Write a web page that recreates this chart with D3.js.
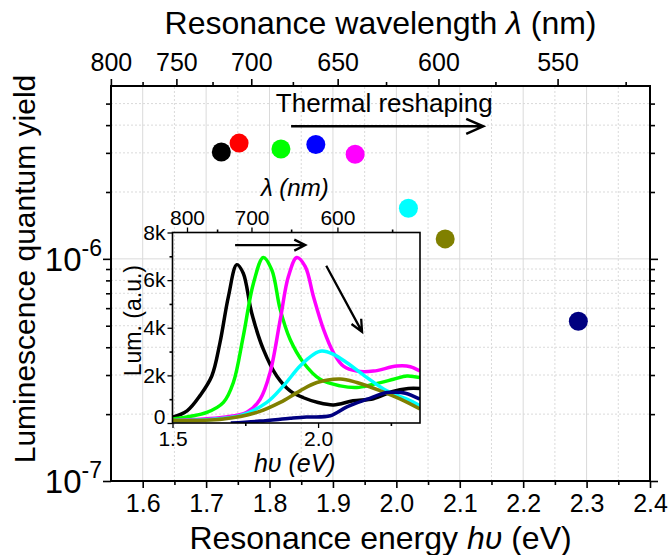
<!DOCTYPE html>
<meta charset="utf-8">
<style>
body { margin: 0; background: #fff; }
svg { display: block; font-family: "Liberation Sans", Arial, sans-serif; }
.grid line { stroke: #dadada; stroke-width: 1; }
.grid line.minor { stroke-dasharray: 2,2; }
.axis path { display: none; }
.axis line { stroke: #000; stroke-width: 1.6; }
.spec { fill: none; stroke-width: 3.5; stroke-linejoin: round; }
.arrow { fill: none; stroke: #000; stroke-width: 2.5; }
</style>
<svg width="672" height="555"></svg>
<script src="https://d3js.org/d3.v7.min.js"></script>
<script>
var HC = 1239.84;

// main plot: resonance energy (eV) vs quantum yield
var dotEnergy = [1.724, 1.752, 1.818, 1.873, 1.935, 2.019, 2.077, 2.287];
var dotYield  = [3.03e-6, 3.32e-6, 3.12e-6, 3.27e-6, 2.96e-6, 1.69e-6, 1.23e-6, 5.24e-7];
var dotColor  = ["#000000", "#ff0000", "#00ff00", "#0000ff", "#ff00ff", "#00ffff", "#808000", "#000080"];

var xMajor = [1.6, 1.7, 1.8, 1.9, 2.0, 2.1, 2.2, 2.3, 2.4];
var xMinor = [1.65, 1.75, 1.85, 1.95, 2.05, 2.15, 2.25, 2.35];
var lamMajor = [800, 750, 700, 650, 600, 550];
var lamMinor = [775, 725, 675, 625, 575, 525];
var yMajor = [1e-7, 1e-6];
var yMinor = [2e-7, 3e-7, 4e-7, 5e-7, 6e-7, 7e-7, 8e-7, 9e-7, 2e-6, 3e-6, 4e-6, 5e-6];

// inset: luminescence spectra, [energy eV, counts]
var specBlack = [[1.50,240],[1.55,510],[1.595,1160],[1.635,1975],[1.663,3370],[1.692,5310],[1.721,6650],[1.743,6290],[1.772,4620],[1.812,3090],[1.858,1975],[1.904,1350],[1.95,1060],[2.0,860],[2.053,760],[2.12,930],[2.19,1020],[2.25,1300],[2.31,1450],[2.35,1450]];
var specGreen = [[1.50,170],[1.618,445],[1.675,865],[1.709,1700],[1.743,3640],[1.778,5870],[1.812,6950],[1.841,6430],[1.870,4760],[1.904,3505],[1.950,2530],[2.007,1835],[2.076,1560],[2.133,1490],[2.190,1630],[2.259,1835],[2.305,1975],[2.35,1905]];
var specMagenta = [[1.50,100],[1.675,240],[1.755,445],[1.801,1000],[1.835,2115],[1.870,4340],[1.898,6150],[1.927,6950],[1.956,6565],[1.984,5310],[2.019,3920],[2.053,2950],[2.087,2390],[2.133,2180],[2.190,2180],[2.270,2390],[2.317,2365],[2.35,2180]];
var specCyan = [[1.50,90],[1.732,305],[1.824,865],[1.881,1560],[1.938,2390],[1.984,2880],[2.013,3020],[2.053,2880],[2.099,2530],[2.168,1905],[2.236,1350],[2.305,1000],[2.35,725]];
var specOlive = [[1.50,100],[1.675,167],[1.79,445],[1.870,865],[1.938,1350],[1.996,1700],[2.076,1850],[2.133,1700],[2.214,1350],[2.283,1000],[2.35,585]];
var specNavy = [[1.70,0],[1.80,80],[1.904,195],[1.96,250],[2.042,305],[2.099,680],[2.168,1000],[2.236,1280],[2.259,1290],[2.30,1250],[2.35,1000]];
var spectra = [specBlack, specGreen, specMagenta, specCyan, specOlive, specNavy];
var specColor = ["#000000", "#00ff00", "#ff00ff", "#00ffff", "#808000", "#000080"];

var ixMajor = [1.5, 2.0];
var ixMinor = [1.75, 2.25];
var iyMajor = [0, 2000, 4000, 6000, 8000];
var iyMinor = [1000, 3000, 5000, 7000];
var ilamMajor = [800, 700, 600];
var ilamMinor = [750, 650, 550];

var svg = d3.select("svg");

var x = d3.scaleLinear().domain([1.55, 2.4]).range([111, 650]);
var y = d3.scaleLog().domain([1e-7, 6e-6]).range([481, 86]);

// grid
var grid = svg.append("g").attr("class", "grid");
grid.selectAll(".vx").data(xMajor.concat(xMinor)).enter().append("line")
    .attr("class", function(d) { return xMinor.indexOf(d) >= 0 ? "minor" : "major"; })
    .attr("x1", x).attr("x2", x).attr("y1", y.range()[0]).attr("y2", y.range()[1]);
grid.selectAll(".hy").data([1e-6].concat(yMinor)).enter().append("line")
    .attr("class", function(d) { return d === 1e-6 ? "major" : "minor"; })
    .attr("x1", x.range()[0]).attr("x2", x.range()[1]).attr("y1", y).attr("y2", y);

// axes
function addAxis(axis, tr) {
    return svg.append("g").attr("class", "axis").attr("transform", tr).call(axis);
}
addAxis(d3.axisBottom(x).tickValues(xMajor).tickSize(7).tickPadding(6).tickFormat(d3.format(".1f")), "translate(0,481)");
addAxis(d3.axisBottom(x).tickValues(xMinor).tickSize(4).tickFormat(""), "translate(0,481)");
addAxis(d3.axisTop(x).tickValues(lamMajor.map(function(l) { return HC / l; })).tickSize(7).tickPadding(8)
    .tickFormat(function(d) { return Math.round(HC / d); }), "translate(0,86)");
addAxis(d3.axisTop(x).tickValues(lamMinor.map(function(l) { return HC / l; })).tickSize(4).tickFormat(""), "translate(0,86)");
addAxis(d3.axisLeft(y).tickValues(yMajor).tickSize(8).tickFormat(""), "translate(111,0)");
addAxis(d3.axisLeft(y).tickValues(yMinor).tickSize(5).tickFormat(""), "translate(111,0)");
addAxis(d3.axisRight(y).tickValues(yMajor).tickSize(8).tickFormat(""), "translate(650,0)");
addAxis(d3.axisRight(y).tickValues(yMinor).tickSize(5).tickFormat(""), "translate(650,0)");
svg.selectAll(".axis text").attr("fill", "#000").style("font-size", "25px").style("font-family", null);

svg.append("rect").attr("x", 111).attr("y", 86).attr("width", 539).attr("height", 395)
    .attr("fill", "none").attr("stroke", "#000").attr("stroke-width", 2);

// log labels 10^n
yMajor.forEach(function(v) {
    var t = svg.append("text").attr("x", 102).attr("y", y(v) + 12).attr("text-anchor", "end")
        .style("font-size", "33px");
    t.append("tspan").text("10");
    t.append("tspan").attr("dy", -15).style("font-size", "23px").text(Math.round(Math.log10(v)));
});

// titles
svg.append("text").attr("x", 380.5).attr("y", 34).attr("text-anchor", "middle").style("font-size", "32px")
    .html('Resonance wavelength <tspan font-style="italic">λ</tspan> (nm)');
svg.append("text").attr("x", 380.5).attr("y", 549).attr("text-anchor", "middle").style("font-size", "32px")
    .html('Resonance energy <tspan font-style="italic">hυ</tspan> (eV)');
svg.append("text").attr("transform", "translate(35,269) rotate(-90)").attr("text-anchor", "middle")
    .style("font-size", "30px").text("Luminescence quantum yield");

// annotation
svg.append("text").attr("x", x(1.81)).attr("y", y(4.57e-6)).style("font-size", "26px").text("Thermal reshaping");

function arrow(x1, y1, x2, y2, len, half, w) {
    var a = Math.atan2(y2 - y1, x2 - x1);
    var bx = x2 - len * Math.cos(a), by = y2 - len * Math.sin(a);
    var px = -Math.sin(a) * half, py = Math.cos(a) * half;
    svg.append("path").attr("class", "arrow").style("stroke-width", w)
        .attr("d", "M" + x1 + "," + y1 + "L" + x2 + "," + y2 +
            "M" + (bx + px) + "," + (by + py) + "L" + x2 + "," + y2 + "L" + (bx - px) + "," + (by - py));
}
arrow(x(1.834), y(3.95e-6), x(2.137), y(3.95e-6), 17, 7.5, 2.5);

// dots
svg.append("g").selectAll("circle").data(dotEnergy).enter().append("circle")
    .attr("cx", function(d) { return x(d); })
    .attr("cy", function(d, i) { return y(dotYield[i]); })
    .attr("r", 9.5)
    .attr("fill", function(d, i) { return dotColor[i]; });

// ---- inset ----
var ix = d3.scaleLinear().domain([1.5, 2.35]).range([172.5, 420]);
var iy = d3.scaleLinear().domain([0, 8000]).range([423, 232.5]);

svg.append("clipPath").attr("id", "iclip").append("rect")
    .attr("x", 172.5).attr("y", 232.5).attr("width", 247.5).attr("height", 190.5);

var line = d3.line().x(function(d) { return ix(d[0]); }).y(function(d) { return iy(d[1]); })
    .curve(d3.curveCatmullRom.alpha(0.5));
svg.append("g").attr("clip-path", "url(#iclip)").selectAll("path").data(spectra).enter().append("path")
    .attr("class", "spec")
    .attr("stroke", function(d, i) { return specColor[i]; })
    .attr("d", line);

var ia = [];
ia.push(addAxis(d3.axisBottom(ix).tickValues(ixMajor).tickSize(5).tickPadding(3).tickFormat(d3.format(".1f")), "translate(0,423)"));
addAxis(d3.axisBottom(ix).tickValues(ixMinor).tickSize(3).tickFormat(""), "translate(0,423)");
var il = addAxis(d3.axisLeft(iy).tickValues(iyMajor).tickSize(5).tickPadding(2)
    .tickFormat(function(d) { return d === 0 ? "0" : (d / 1000) + "k"; }), "translate(172.5,0)");
ia.push(il);
addAxis(d3.axisLeft(iy).tickValues(iyMinor).tickSize(3).tickFormat(""), "translate(172.5,0)");
ia.push(addAxis(d3.axisTop(ix).tickValues(ilamMajor.map(function(l) { return HC / l; })).tickSize(5).tickPadding(3)
    .tickFormat(function(d) { return Math.round(HC / d); }), "translate(0,232.5)"));
addAxis(d3.axisTop(ix).tickValues(ilamMinor.map(function(l) { return HC / l; })).tickSize(3).tickFormat(""), "translate(0,232.5)");
ia.forEach(function(g) {
    g.selectAll("line").style("stroke-width", 1.3);
    g.selectAll("text").attr("fill", "#000").style("font-size", "21px").style("font-family", null);
});
il.selectAll(".tick").filter(function(d) { return d === 0; }).select("text").attr("y", -6);

svg.append("rect").attr("x", 172.5).attr("y", 232.5).attr("width", 247.5).attr("height", 190.5)
    .attr("fill", "none").attr("stroke", "#000").attr("stroke-width", 1.6);

svg.append("text").attr("x", ix(1.92)).attr("y", 196).attr("text-anchor", "middle")
    .style("font-size", "24px").style("font-style", "italic").text("λ (nm)");
svg.append("text").attr("x", ix(1.92)).attr("y", 472).attr("text-anchor", "middle")
    .style("font-size", "25px").style("font-style", "italic").text("hυ (eV)");
svg.append("text").attr("transform", "translate(141," + iy(4300) + ") rotate(-90)").attr("text-anchor", "middle")
    .style("font-size", "23px").text("Lum. (a.u.)");

arrow(ix(1.715), iy(7470), ix(1.956), iy(7470), 11, 5.5, 2.3);
arrow(ix(2.028), iy(6605), ix(2.151), iy(3825), 12, 5.5, 2.3);
</script>
